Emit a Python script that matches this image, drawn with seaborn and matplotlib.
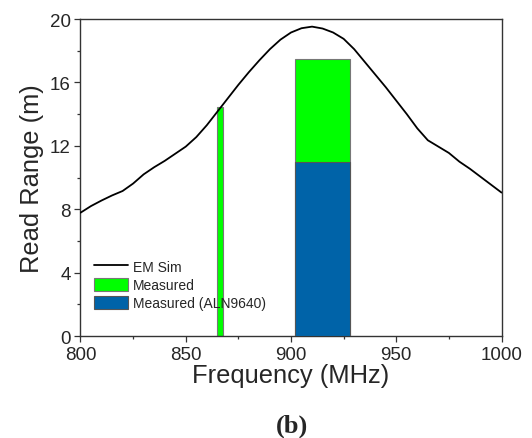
import numpy as np
import pandas as pd
import matplotlib
matplotlib.use("Agg")
import matplotlib.pyplot as plt
import seaborn as sns
from matplotlib.patches import Patch
from matplotlib.lines import Line2D

# EM simulation curve (frequency MHz, read range m)
sim_freq = [800, 805, 810, 815, 820, 825, 830, 835, 840, 845, 850, 855, 860, 865,
            870, 875, 880, 885, 890, 895, 900, 905, 910, 915, 920, 925, 930, 935,
            940, 945, 950, 955, 960, 965, 970, 975, 980, 985, 990, 995, 1000]
sim_range = [7.78, 8.2, 8.55, 8.87, 9.15, 9.62, 10.2, 10.65, 11.05, 11.5, 11.95, 12.55, 13.3, 14.15,
             15.0, 15.85, 16.65, 17.4, 18.1, 18.7, 19.15, 19.42, 19.52, 19.4, 19.15, 18.75, 18.1, 17.3,
             16.5, 15.7, 14.85, 14.0, 13.1, 12.35, 11.95, 11.55, 11.0, 10.55, 10.05, 9.55, 9.05]

# Measured bars: start frequency, end frequency, read range
meas_start = [864.7, 902.0]
meas_end = [867.8, 928.0]
meas_range = [14.45, 17.5]
aln_start = [902.0]
aln_end = [928.0]
aln_range = [11.0]

labels = ["EM Sim", "Measured", "Measured (ALN9640)"]
green = "#00FF00"
blue = "#0063A8"

sns.set_style("ticks")
plt.rcParams["font.family"] = ["Liberation Sans", "DejaVu Sans"]

fig = plt.figure(figsize=(5.32, 4.39), dpi=100)
ax = fig.add_axes([0.1513, 0.2323, 0.9427 - 0.1513, 0.9544 - 0.2323])

ax.bar(meas_start, meas_range, width=np.array(meas_end) - np.array(meas_start), align="edge",
       color=green, edgecolor="#777777", linewidth=0.8, zorder=2)
ax.bar(aln_start, aln_range, width=np.array(aln_end) - np.array(aln_start), align="edge",
       color=blue, edgecolor="#555555", linewidth=0.8, zorder=3)

df = pd.DataFrame({"f": sim_freq, "r": sim_range})
sns.lineplot(data=df, x="f", y="r", color="black", linewidth=1.3, ax=ax, zorder=4)

ax.set_xlim(800, 1000)
ax.set_ylim(0, 20)
ax.set_xticks([800, 850, 900, 950, 1000])
ax.set_xticks([825, 875, 925, 975], minor=True)
ax.set_yticks([0, 4, 8, 12, 16, 20])
ax.set_yticks([2, 6, 10, 14, 18], minor=True)
ax.tick_params(axis="both", which="major", direction="out", length=4, width=0.9,
               labelsize=13.5, color="#333333", pad=3)
ax.tick_params(axis="both", which="minor", direction="out", length=2.5, width=0.9, color="#333333")
for s in ax.spines.values():
    s.set_visible(True)
    s.set_linewidth(1.0)
    s.set_color("#333333")

ax.set_xlabel("Frequency (MHz)", fontsize=18.4, labelpad=0)
ax.set_ylabel("Read Range (m)", fontsize=18.4, labelpad=4)

handles = [Line2D([0], [0], color="black", linewidth=1.3),
           Patch(facecolor=green, edgecolor="#777777", linewidth=0.8),
           Patch(facecolor=blue, edgecolor="#555555", linewidth=0.8)]
ax.legend(handles, labels, loc="lower left", bbox_to_anchor=(0.01, 0.05), frameon=False,
          fontsize=10, handlelength=2.4, handleheight=1.05, handletextpad=0.35,
          labelspacing=0.3, borderaxespad=0.3)

fig.text(0.549, 0.03, "(b)", ha="center", va="center", fontsize=19, fontweight="bold",
         family=["Liberation Serif", "DejaVu Serif"])

fig.savefig("out.png", dpi=100)
